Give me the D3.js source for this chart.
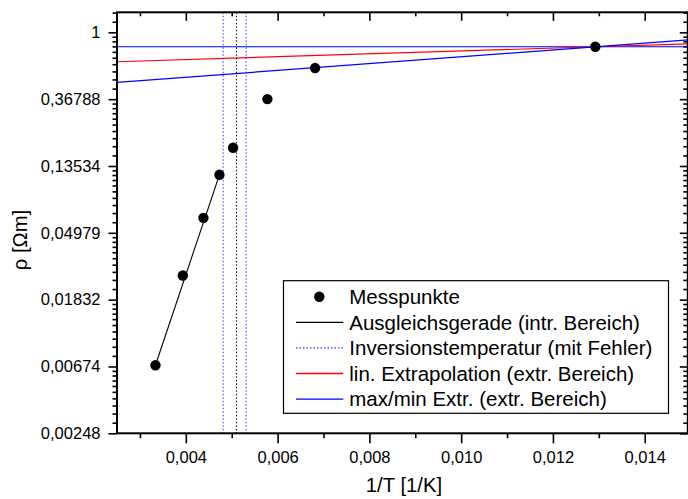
<!DOCTYPE html>
<html>
<head>
<meta charset="utf-8">
<script src="https://cdn.jsdelivr.net/npm/d3@7"></script>
<style>
  body { margin: 0; background: #fff; }
  text { font-family: Arial, "Liberation Sans", sans-serif; fill: #000; }
  .axis path, .axis line { stroke: #000; }
</style>
</head>
<body>
<script>
// measured points
var invT = [0.003338, 0.003935, 0.004383, 0.004732, 0.00503, 0.005778, 0.006817, 0.012924];
var rho = [0.00686, 0.0263, 0.0623, 0.1186, 0.1777, 0.3683, 0.586, 0.806];

// fit line (intrinsic range)
var fitX = [0.003338, 0.004732];
var fitRho = [0.00686, 0.1186];

// inversion temperature with error
var invLines = [0.004813, 0.005103, 0.005314];

// extrapolations (extrinsic range)
var extX = [0.0025, 0.015];
var linExtRho = [0.644, 0.843];
var maxExtRho = [0.806, 0.806];
var minExtRho = [0.473, 0.896];

var xTicks = [0.004, 0.006, 0.008, 0.010, 0.012, 0.014];
var xTickLabels = ["0,004", "0,006", "0,008", "0,010", "0,012", "0,014"];
var yTickPow = [-6, -5, -4, -3, -2, -1, 0];
var yTickLabels = ["0,00248", "0,00674", "0,01832", "0,04979", "0,13534", "0,36788", "1"];

var legendLabels = ["Messpunkte", "Ausgleichsgerade (intr. Bereich)", "Inversionstemperatur (mit Fehler)",
  "lin. Extrapolation (extr. Bereich)", "max/min Extr. (extr. Bereich)"];

var W = 688, H = 499;
var pL = 117, pR = 690.6, pT = 12.3, pB = 433.3;
var frameR = 687.8;

var svg = d3.select("body").append("svg")
    .attr("width", W)
    .attr("height", H);

var x = d3.scaleLinear().domain([0.0025, 0.015]).range([pL, pR]);
var y = d3.scaleLog().base(Math.E).domain([Math.exp(-6), Math.exp(0.3)]).range([pB, pT]);

svg.append("clipPath").attr("id", "clip")
  .append("rect").attr("x", pL).attr("y", pT).attr("width", frameR - pL).attr("height", pB - pT);

// minor ticks
var xMinor = [0.003, 0.005, 0.007, 0.009, 0.011, 0.013];
var yMajor = yTickPow.map(function(p) {return Math.exp(p)});
var yMinor = [];
for (var k = -6; k <= 0; k++) {
  var a = Math.exp(k), b = Math.exp(k + 1);
  for (var j = 1; j < 10; j++) {
    var v = a + j * (b - a) / 10;
    if (v < Math.exp(0.3)) yMinor.push(v);
  }
}

function drawAxis(axis, tr) {
  var g = svg.append("g").attr("class", "axis").attr("transform", tr).call(axis);
  g.select(".domain").remove();
  g.selectAll("line").attr("stroke-width", 1.6);
  return g;
}

// bottom
drawAxis(d3.axisBottom(x).tickValues(xMinor).tickSize(5).tickFormat(""), "translate(0," + pB + ")");
var bx = drawAxis(d3.axisBottom(x).tickValues(xTicks).tickSize(10).tickPadding(6)
    .tickFormat(function(d, i) {return xTickLabels[i]}), "translate(0," + pB + ")");
bx.selectAll("text").attr("font-size", "16.5px").attr("dy", "0.85em");
// top
drawAxis(d3.axisTop(x).tickValues(xMinor).tickSize(-4).tickFormat(""), "translate(0," + pT + ")");
drawAxis(d3.axisTop(x).tickValues(xTicks).tickSize(-8.5).tickFormat(""), "translate(0," + pT + ")");
// left
drawAxis(d3.axisLeft(y).tickValues(yMinor).tickSize(4.5).tickFormat(""), "translate(" + pL + ",0)");
var ly = drawAxis(d3.axisLeft(y).tickValues(yMajor).tickSize(8.5).tickPadding(8)
    .tickFormat(function(d, i) {return yTickLabels[i]}), "translate(" + pL + ",0)");
ly.selectAll("text").attr("font-size", "16.5px");
// right
drawAxis(d3.axisRight(y).tickValues(yMinor).tickSize(-4.5).tickFormat(""), "translate(" + frameR + ",0)");
drawAxis(d3.axisRight(y).tickValues(yMajor).tickSize(-8).tickFormat(""), "translate(" + frameR + ",0)");

var plot = svg.append("g").attr("clip-path", "url(#clip)");
var line = d3.line().x(function(d) {return x(d[0])}).y(function(d) {return y(d[1])});

plot.append("path").datum(d3.zip(extX, maxExtRho)).attr("d", line)
  .attr("fill", "none").attr("stroke", "#0000ff").attr("stroke-width", 1.2);
plot.append("path").datum(d3.zip(extX, linExtRho)).attr("d", line)
  .attr("fill", "none").attr("stroke", "#ff0000").attr("stroke-width", 1.2);
plot.append("path").datum(d3.zip(extX, minExtRho)).attr("d", line)
  .attr("fill", "none").attr("stroke", "#0000ff").attr("stroke-width", 1.2);

plot.selectAll(".inv").data(invLines).enter().append("line")
  .attr("x1", function(d) {return x(d)}).attr("x2", function(d) {return x(d)})
  .attr("y1", pT).attr("y2", pB)
  .attr("stroke", function(d, i) {return i == 1 ? "#000" : "#3333ff"})
  .attr("stroke-width", 1)
  .attr("stroke-dasharray", "1.5,2");

plot.append("path").datum(d3.zip(fitX, fitRho)).attr("d", line)
  .attr("fill", "none").attr("stroke", "#000").attr("stroke-width", 1.1);

plot.selectAll(".pt").data(d3.zip(invT, rho)).enter().append("circle")
  .attr("cx", function(d) {return x(d[0])})
  .attr("cy", function(d) {return y(d[1])})
  .attr("r", 5.2)
  .attr("fill", "#000");

// frame
svg.append("rect")
  .attr("x", pL).attr("y", pT)
  .attr("width", frameR - pL).attr("height", pB - pT)
  .attr("fill", "none").attr("stroke", "#000").attr("stroke-width", 2);

// legend
var lg = svg.append("g");
lg.append("rect").attr("x", 283.5).attr("y", 280.7).attr("width", 385).attr("height", 132.6)
  .attr("fill", "#fff").attr("stroke", "#000").attr("stroke-width", 1.2);
var rowY = function(i) {return 296.7 + i * 25.6};
lg.append("circle").attr("cx", 319.3).attr("cy", rowY(0)).attr("r", 5.2).attr("fill", "#000");
var legColors = [null, "#000000", "#3333ff", "#ff0000", "#0000ff"];
var legDash = [null, "none", "1.5,2", "none", "none"];
legColors.forEach(function(c, i) {
  if (!c) return;
  lg.append("line").attr("x1", 296).attr("x2", 343.3).attr("y1", rowY(i)).attr("y2", rowY(i))
    .style("stroke", c).style("stroke-width", 1.3).style("stroke-dasharray", legDash[i]);
});
lg.selectAll(".lt").data(legendLabels).enter().append("text")
  .attr("x", 349.3).attr("y", function(d, i) {return rowY(i) + 7.3})
  .attr("font-size", "20.5px")
  .text(function(d) {return d});

// axis titles
svg.append("text").attr("x", 404).attr("y", 492).attr("text-anchor", "middle")
  .attr("font-size", "20.3px").text("1/T [1/K]");
svg.append("text").attr("transform", "translate(27,240) rotate(-90)").attr("text-anchor", "middle")
  .attr("font-size", "20.3px").text("ρ [Ωm]");
</script>
</body>
</html>
